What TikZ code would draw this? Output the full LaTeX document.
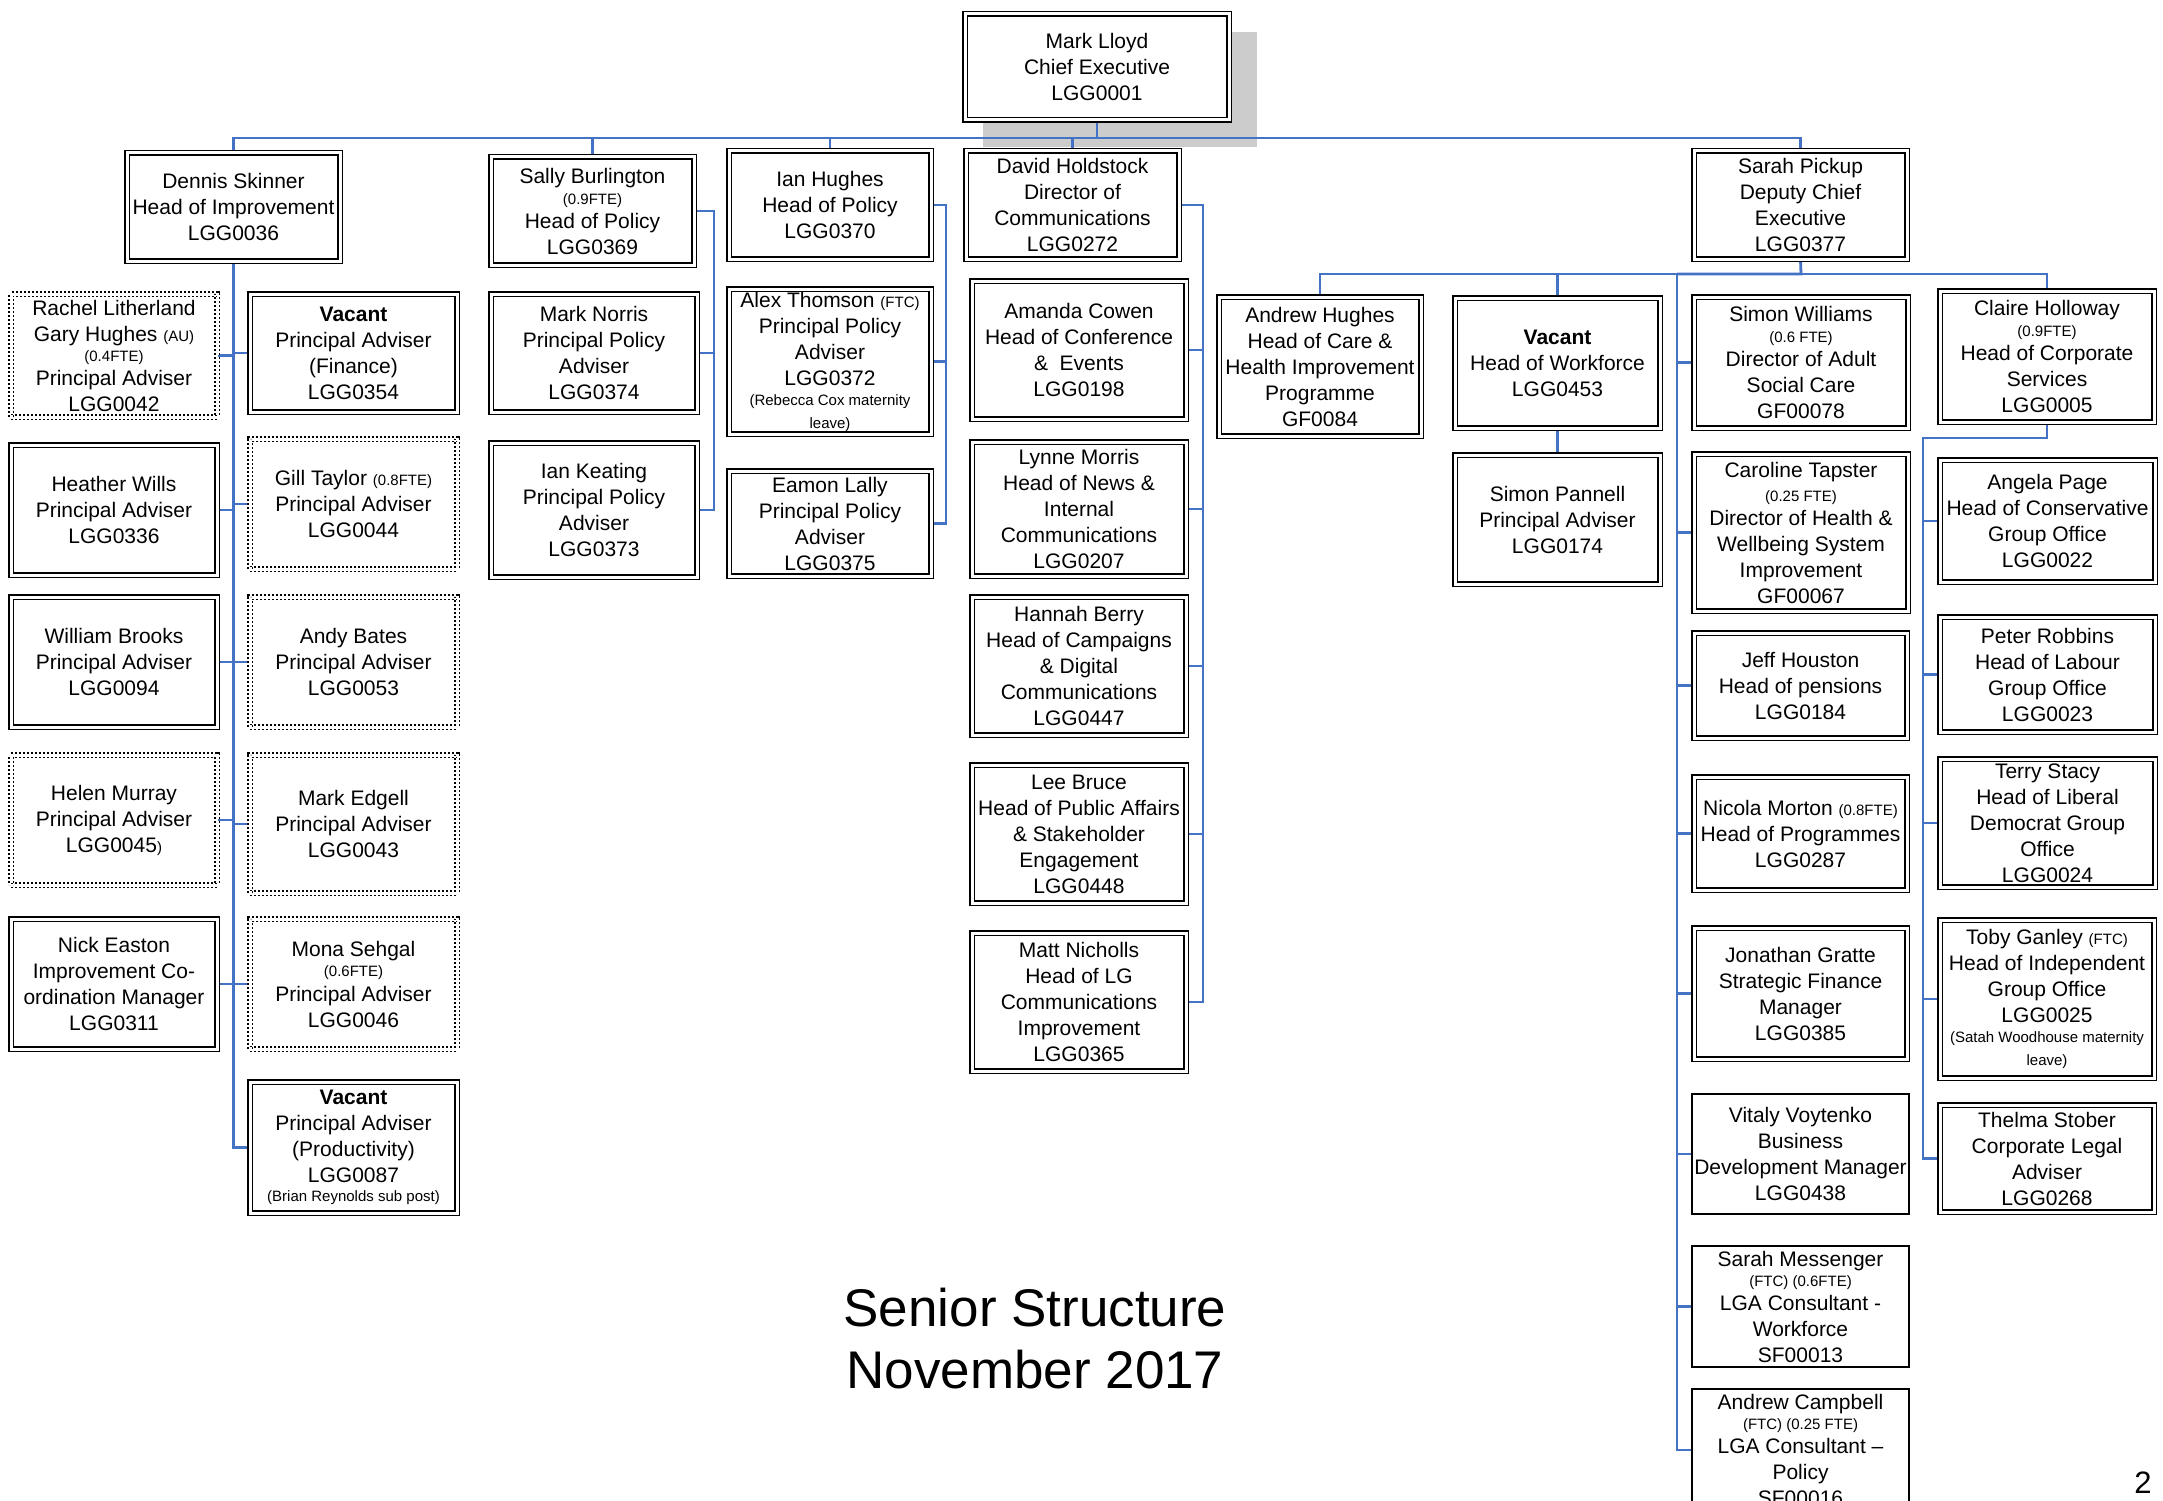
\documentclass[tikz,border=0pt]{standalone}
\usepackage{fontspec}
\setmainfont{Liberation Sans}
\usetikzlibrary{backgrounds}
\definecolor{conncol}{RGB}{68,114,196}
\definecolor{shadowgray}{RGB}{204,204,204}
\newcommand\sm[1]{{\fontsize{15}{18}\selectfont #1}}
\newcommand\orgbox[7]{\node[#6, minimum width={(#4)-(#2)-6}, minimum height={(#5)-(#3)-6}] (#1) at ({((#2)+(#4))/2},{((#3)+(#5))/2}) {#7};}
\tikzset{
  box/.style={draw=black, line width=1.6pt, double=white, double distance=3pt, fill=white,
    inner sep=0pt, align=center, font=\fontsize{21}{26}\selectfont},
  dbox/.style={box, line width=1.5pt, dash pattern=on 2pt off 2pt},
  sbox/.style={draw=black, line width=1.6pt, fill=white, inner sep=0pt, align=center,
    font=\fontsize{21}{26}\selectfont},
  ln/.style={draw=conncol, line width=2.2pt},
  lnthick/.style={draw=conncol, line width=2.8pt}
}
\begin{document}
\begin{tikzpicture}[x=1pt,y=-1pt]
\useasboundingbox (0,0) rectangle (2163,1501);
% top
\orgbox{ceo}{962}{11}{1232}{123}{box}{Mark Lloyd\\Chief Executive\\LGG0001}
% Dennis
\orgbox{dennis}{124}{150}{343}{264}{box}{Dennis Skinner\\Head of Improvement\\LGG0036}
\orgbox{rachel}{8}{291}{220}{420}{dbox}{Rachel Litherland\\Gary Hughes \sm{(AU)}\\[-6pt]\sm{(0.4FTE)}\\[-2pt]Principal Adviser\\LGG0042}
\orgbox{vacfin}{247}{291}{460}{415}{box}{\textbf{Vacant}\\Principal Adviser\\(Finance)\\LGG0354}
\orgbox{heather}{8}{442}{220}{578}{box}{Heather Wills\\Principal Adviser\\LGG0336}
\orgbox{gill}{247}{436}{460}{572}{dbox}{Gill Taylor \sm{(0.8FTE)}\\Principal Adviser\\LGG0044}
\orgbox{william}{8}{594}{220}{730}{box}{William Brooks\\Principal Adviser\\LGG0094}
\orgbox{andy}{247}{594}{460}{730}{dbox}{Andy Bates\\Principal Adviser\\LGG0053}
\orgbox{helen}{8}{752}{220}{888}{dbox}{Helen Murray\\Principal Adviser\\LGG0045\sm{)}}
\orgbox{edgell}{247}{752}{460}{896}{dbox}{Mark Edgell\\Principal Adviser\\LGG0043}
\orgbox{nick}{8}{916}{220}{1052}{box}{Nick Easton\\Improvement Co-\\ordination Manager\\LGG0311}
\orgbox{mona}{247}{916}{460}{1052}{dbox}{Mona Sehgal\\[-6pt]\sm{(0.6FTE)}\\[-1pt]Principal Adviser\\LGG0046}
\orgbox{vacprod}{247}{1079}{460}{1216}{box}{\textbf{Vacant}\\Principal Adviser\\(Productivity)\\LGG0087\\[-7pt]\sm{(Brian Reynolds sub post)}}
% policy
\orgbox{sally}{488}{154}{697}{268}{box}{Sally Burlington\\[-5pt]\sm{(0.9FTE)}\\[-2pt]Head of Policy\\LGG0369}
\orgbox{norris}{488}{291}{700}{415}{box}{Mark Norris\\Principal Policy\\Adviser\\LGG0374}
\orgbox{keating}{488}{440}{700}{580}{box}{Ian Keating\\Principal Policy\\Adviser\\LGG0373}
\orgbox{ianh}{726}{148}{934}{262}{box}{Ian Hughes\\Head of Policy\\LGG0370}
\orgbox{alex}{726}{286}{934}{437}{box}{Alex Thomson \sm{(FTC)}\\Principal Policy\\Adviser\\LGG0372\\[-6pt]\sm{(Rebecca Cox maternity}\\[-3pt]\sm{leave)}}
\orgbox{eamon}{726}{468}{934}{579}{box}{Eamon Lally\\Principal Policy\\Adviser\\LGG0375}
% communications
\orgbox{david}{963}{148}{1182}{262}{box}{David Holdstock\\Director of\\Communications\\LGG0272}
\orgbox{amanda}{969}{278}{1189}{422}{box}{Amanda Cowen\\Head of Conference\\\&\ \ Events\\LGG0198}
\orgbox{lynne}{969}{439}{1189}{579}{box}{Lynne Morris\\Head of News \&\\Internal\\Communications\\LGG0207}
\orgbox{hannah}{969}{594}{1189}{738}{box}{Hannah Berry\\Head of Campaigns\\\& Digital\\Communications\\LGG0447}
\orgbox{lee}{969}{762}{1189}{906}{box}{Lee Bruce\\Head of Public Affairs\\\& Stakeholder\\Engagement\\LGG0448}
\orgbox{matt}{969}{930}{1189}{1074}{box}{Matt Nicholls\\Head of LG\\Communications\\Improvement\\LGG0365}
% deputy
\orgbox{andrewh}{1216}{294}{1424}{439}{box}{Andrew Hughes\\Head of Care \&\\Health Improvement\\Programme\\GF0084}
\orgbox{vacwf}{1452}{295}{1663}{431}{box}{\textbf{Vacant}\\Head of Workforce\\LGG0453}
\orgbox{pannell}{1452}{452}{1663}{587}{box}{Simon Pannell\\Principal Adviser\\LGG0174}
\orgbox{pickup}{1691}{148}{1910}{262}{box}{Sarah Pickup\\Deputy Chief\\Executive\\LGG0377}
\orgbox{simonw}{1691}{294}{1911}{431}{box}{Simon Williams\\[-5pt]\sm{(0.6 FTE)}\\[-2pt]Director of Adult\\Social Care\\GF00078}
\orgbox{caroline}{1691}{451}{1911}{614}{box}{Caroline Tapster\\[-2pt]\sm{(0.25 FTE)}\\[-2pt]Director of Health \&\\Wellbeing System\\Improvement\\GF00067}
\orgbox{jeff}{1691}{630}{1910}{741}{box}{Jeff Houston\\Head of pensions\\LGG0184}
\orgbox{nicola}{1691}{774}{1910}{893}{box}{Nicola Morton \sm{(0.8FTE)}\\Head of Programmes\\LGG0287}
\orgbox{jonathan}{1691}{925}{1910}{1062}{box}{Jonathan Gratte\\Strategic Finance\\Manager\\LGG0385}
\orgbox{vitaly}{1689}{1091}{1912}{1217}{sbox}{Vitaly Voytenko\\Business\\Development Manager\\LGG0438}
\orgbox{messenger}{1689}{1243}{1912}{1370}{sbox}{Sarah Messenger\\[-6pt]\sm{(FTC) (0.6FTE)}\\[-2pt]LGA Consultant -\\Workforce\\SF00013}
\orgbox{campbell}{1689}{1386}{1912}{1514}{sbox}{Andrew Campbell\\[-6pt]\sm{(FTC) (0.25 FTE)}\\[-2pt]LGA Consultant –\\Policy\\SF00016}
\orgbox{claire}{1937}{288}{2157}{425}{box}{Claire Holloway\\[-5pt]\sm{(0.9FTE)}\\[-2pt]Head of Corporate\\Services\\LGG0005}
\orgbox{angela}{1937}{457}{2158}{585}{box}{Angela Page\\Head of Conservative\\Group Office\\LGG0022}
\orgbox{peter}{1937}{614}{2158}{735}{box}{Peter Robbins\\Head of Labour\\Group Office\\LGG0023}
\orgbox{terry}{1937}{756}{2158}{890}{box}{Terry Stacy\\Head of Liberal\\Democrat Group\\Office\\LGG0024}
\orgbox{toby}{1937}{917}{2157}{1081}{box}{Toby Ganley \sm{(FTC)}\\Head of Independent\\Group Office\\LGG0025\\[-6pt]\sm{(Satah Woodhouse maternity}\\[-3pt]\sm{leave)}}
\orgbox{thelma}{1937}{1102}{2157}{1215}{box}{Thelma Stober\\Corporate Legal\\Adviser\\LGG0268}
% title and page number
\node[font=\fontsize{53}{62}\selectfont, align=center, inner sep=0pt] (title) at (1035,1339) {Senior Structure\\November 2017};
\node[font=\fontsize{31}{36}\selectfont, inner sep=0pt] (pnum) at (2143,1483) {2};
% connectors and shadow
\begin{scope}[on background layer]
\fill[shadowgray] (983,32) rectangle (1257,147);
\coordinate (bus) at (1097,138);
\draw[lnthick] (ceo.south) -- (bus);
\draw[lnthick] (dennis.north) |- (bus);
\draw[ln] (bus) -| (pickup.north);
\draw[ln] (sally.north) -- (sally.north |- bus);
\draw[ln] (ianh.north) -- (ianh.north |- bus);
\draw[ln] (david.north) -- (david.north |- bus);
% Dennis column
\draw[ln] (dennis.south) |- (vacprod.west);
\foreach \n in {rachel,heather,william,helen,nick}
  \draw[ln] (\n.east) -- (\n.east -| dennis.south);
\foreach \n in {vacfin,gill,andy,edgell,mona}
  \draw[ln] (\n.west) -- (\n.west -| dennis.south);
% Sally
\coordinate (sx) at (714,0);
\draw[ln] (sally.east) -| (sx |- keating.east) -- (keating.east);
\draw[ln] (norris.east) -- (norris.east -| sx);
% Ian Hughes
\coordinate (ix) at (946,0);
\draw[ln] (ianh.east) -| (ix |- eamon.east) -- (eamon.east);
\draw[ln] (alex.east) -- (alex.east -| ix);
% David
\coordinate (dx) at (1203,0);
\draw[ln] (david.east) -| (dx |- matt.east) -- (matt.east);
\foreach \n in {amanda,lynne,hannah,lee}
  \draw[ln] (\n.east) -- (\n.east -| dx);
% Sarah Pickup
\coordinate (pbus) at (1801,274);
\coordinate (px) at (1677,274);
\draw[lnthick] (pickup.south) -- (pbus) -- (px);
\draw[ln] (andrewh.north) |- (px);
\draw[ln] (pbus) -| (claire.north);
\draw[ln] (vacwf.north) -- (vacwf.north |- pbus);
\draw[ln] (vacwf.south) -- (pannell.north);
\draw[ln] (px) |- (campbell.west);
\foreach \n in {simonw,caroline,jeff,nicola,jonathan,vitaly,messenger}
  \draw[ln] (\n.west) -- (\n.west -| px);
% Claire
\coordinate (cx) at (1923,438);
\draw[ln] (claire.south) |- (cx) |- (thelma.west);
\foreach \n in {angela,peter,terry,toby}
  \draw[ln] (\n.west) -- (\n.west -| cx);
\end{scope}
\end{tikzpicture}
\end{document}
